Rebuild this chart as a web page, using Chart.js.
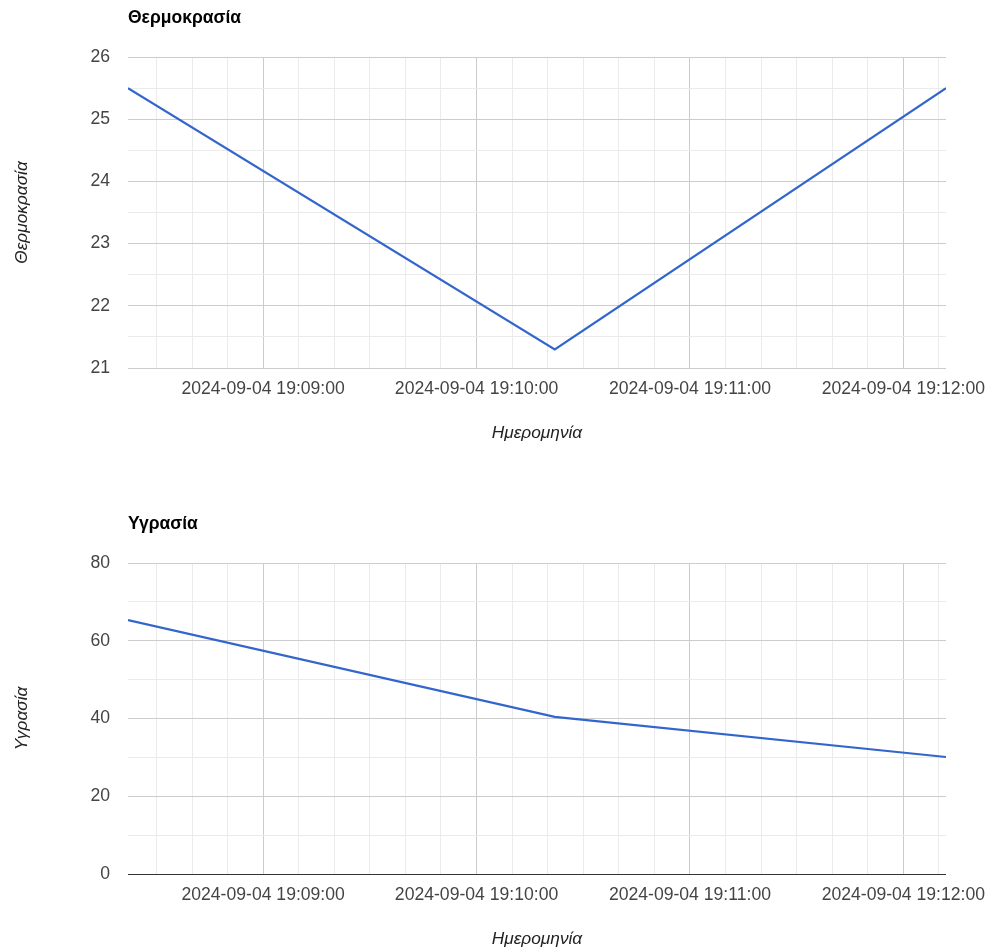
<!DOCTYPE html>
<html>
<head>
<meta charset="utf-8">
<script src="https://cdn.jsdelivr.net/npm/chart.js@4/dist/chart.umd.min.js"></script>
<style>
  html, body { margin: 0; padding: 0; background: #fff; }
  body { width: 989px; height: 950px; position: relative; overflow: hidden; }
  canvas { position: absolute; left: 0; }
</style>
</head>
<body>
<canvas id="c1" width="989" height="444" style="top:0px"></canvas>
<canvas id="c2" width="989" height="444" style="top:506px"></canvas>
<script>
// ---- data ----
const times = ['2024-09-04 19:08:22', '2024-09-04 19:10:22', '2024-09-04 19:12:12'];
const temperature = [25.5, 21.3, 25.5];
const humidity = [65.3, 40.4, 30.1];
const tempTicks = [21, 22, 23, 24, 25, 26];
const humTicks = [0, 20, 40, 60, 80];
const xLabelDate = '2024-09-04';

const FONT = '"Liberation Sans", Arial, sans-serif';

function toSec(s) {
  const t = s.split(' ')[1].split(':').map(Number);
  return t[0] * 3600 + t[1] * 60 + t[2];
}
function fmt(sec) {
  const h = Math.floor(sec / 3600), m = Math.floor((sec % 3600) / 60), s = sec % 60;
  const p = n => String(n).padStart(2, '0');
  return xLabelDate + ' ' + p(h) + ':' + p(m) + ':' + p(s);
}
const xs = times.map(toSec);
const xMin = Math.min(...xs), xMax = Math.max(...xs);

const titlePlugin = {
  id: 'gtitle',
  afterDraw(chart, args, opts) {
    const ctx = chart.ctx;
    ctx.save();
    ctx.font = 'bold 17.5px ' + FONT;
    ctx.fillStyle = '#000';
    ctx.textBaseline = 'middle';
    ctx.textAlign = 'left';
    ctx.fillText(opts.text, chart.chartArea.left, 18);
    ctx.restore();
  }
};

function makeChart(id, title, values, majors, yMin, yMax, step, baselineZero) {
  const data = xs.map((x, i) => ({ x: x, y: values[i] }));
  return new Chart(document.getElementById(id), {
    type: 'line',
    data: { datasets: [{ data: data, borderColor: '#3366cc', borderWidth: 2.2, pointRadius: 0, fill: false, tension: 0 }] },
    plugins: [titlePlugin],
    options: {
      responsive: false,
      animation: false,
      events: [],
      layout: { padding: { top: 57, right: 43, left: 0, bottom: 0 } },
      plugins: { legend: { display: false }, tooltip: { enabled: false }, gtitle: { text: title } },
      scales: {
        x: {
          type: 'linear',
          min: xMin, max: xMax,
          afterBuildTicks(scale) {
            const t = [];
            for (let v = Math.ceil(xMin / 10) * 10; v <= xMax; v += 10) t.push({ value: v });
            scale.ticks = t;
          },
          afterFit(scale) { scale.height = 76; },
          border: { display: false },
          grid: {
            drawTicks: false,
            lineWidth: 1,
            color: c => (c.tick && c.tick.value % 60 === 0) ? '#cccccc' : '#ebebeb'
          },
          ticks: {
            autoSkip: false, maxRotation: 0, minRotation: 0, padding: 11,
            color: '#444', font: { family: FONT, size: 17.6 },
            callback: v => (v % 60 === 0) ? fmt(v) : ''
          },
          title: {
            display: true, text: 'Ημερομηνία', color: '#222',
            font: { family: FONT, size: 17.3, style: 'italic' },
            padding: { top: 0, bottom: 0 }
          }
        },
        y: {
          min: yMin, max: yMax,
          afterBuildTicks(scale) {
            const t = [];
            for (let v = yMin; v <= yMax + 1e-9; v += step) t.push({ value: Math.round(v * 100) / 100 });
            scale.ticks = t;
          },
          afterFit(scale) { scale.width = 128; },
          border: { display: false },
          grid: {
            drawTicks: false,
            lineWidth: 1,
            color: c => {
              const v = c.tick ? c.tick.value : null;
              if (baselineZero && v === 0) return '#333333';
              return majors.includes(v) ? '#cccccc' : '#ebebeb';
            }
          },
          ticks: {
            autoSkip: false, padding: 18,
            color: '#444', font: { family: FONT, size: 17.6 },
            callback: v => majors.includes(v) ? String(v) : ''
          },
          title: {
            display: true, text: title, color: '#222',
            font: { family: FONT, size: 17.3, style: 'italic' },
            padding: { top: 12, bottom: 0 }
          }
        }
      }
    }
  });
}

makeChart('c1', 'Θερμοκρασία', temperature, tempTicks, 21, 26, 0.5, false);
makeChart('c2', 'Υγρασία', humidity, humTicks, 0, 80, 10, true);
</script>
</body>
</html>
